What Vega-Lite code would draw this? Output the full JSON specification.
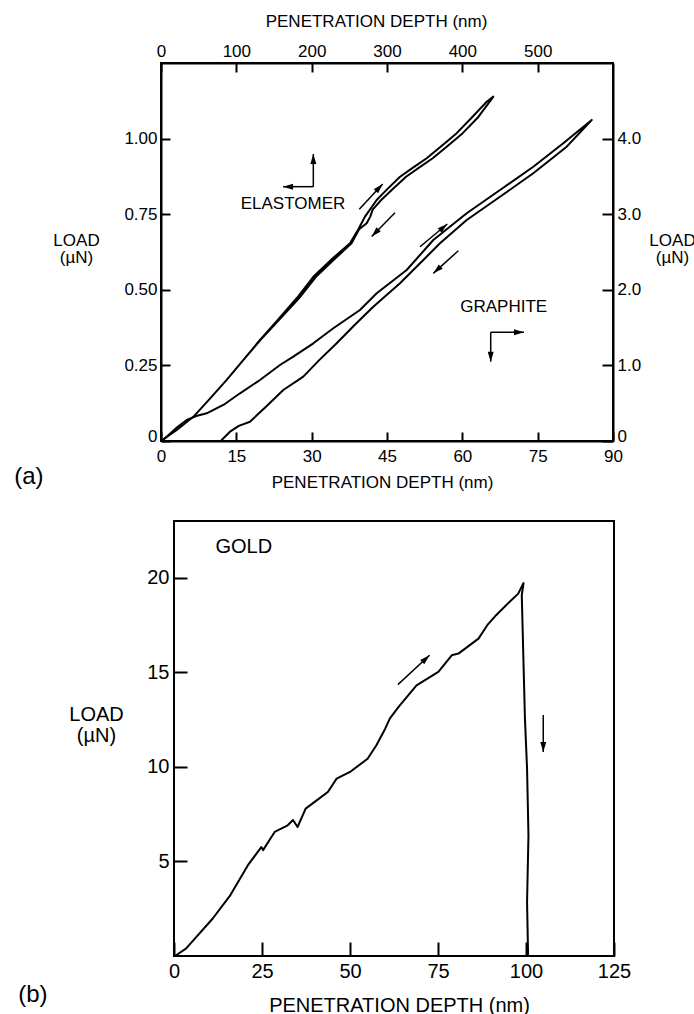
{
  "$schema": "https://vega.github.io/schema/vega-lite/v6.json",
  "padding": {"left": 13, "top": 11, "right": 0, "bottom": 0},
  "spacing": 29,
  "datasets": {
    "elastomer": [
      {"i":0,"nm":0,"load":0},{"i":1,"nm":20,"load":0.035},{"i":2,"nm":42.9,"load":0.08},{"i":3,"nm":65,"load":0.14},
      {"i":4,"nm":87.2,"load":0.202},{"i":5,"nm":110,"load":0.27},{"i":6,"nm":131.4,"load":0.334},{"i":7,"nm":155,"load":0.4},
      {"i":8,"nm":180.1,"load":0.472},{"i":9,"nm":202.2,"load":0.543},{"i":10,"nm":228,"load":0.604},{"i":11,"nm":250.9,"load":0.654},
      {"i":12,"nm":262,"load":0.7},{"i":13,"nm":270.8,"load":0.742},{"i":14,"nm":286.3,"load":0.797},{"i":15,"nm":300,"load":0.832},
      {"i":16,"nm":317.3,"load":0.874},{"i":17,"nm":335,"load":0.905},{"i":18,"nm":352.7,"load":0.935},{"i":19,"nm":372,"load":0.975},
      {"i":20,"nm":392.5,"load":1.018},{"i":21,"nm":412,"load":1.068},{"i":22,"nm":432.4,"load":1.122},{"i":23,"nm":441.1,"load":1.139},
      {"i":24,"nm":436.4,"load":1.122},{"i":25,"nm":420,"load":1.068},{"i":26,"nm":400.5,"load":1.018},{"i":27,"nm":380,"load":0.975},
      {"i":28,"nm":360.7,"load":0.935},{"i":29,"nm":343,"load":0.905},{"i":30,"nm":325.3,"load":0.874},{"i":31,"nm":307,"load":0.832},
      {"i":32,"nm":292.3,"load":0.797},{"i":33,"nm":281,"load":0.765},{"i":34,"nm":277.8,"load":0.742},{"i":35,"nm":273,"load":0.72},
      {"i":36,"nm":263,"load":0.7},{"i":37,"nm":252.9,"load":0.654},{"i":38,"nm":231.5,"load":0.604},{"i":39,"nm":205.7,"load":0.543},
      {"i":40,"nm":183.1,"load":0.472},{"i":41,"nm":156.5,"load":0.4},{"i":42,"nm":131.9,"load":0.334},{"i":43,"nm":110,"load":0.27},
      {"i":44,"nm":87.2,"load":0.202},{"i":45,"nm":65,"load":0.14},{"i":46,"nm":42.9,"load":0.08},{"i":47,"nm":20,"load":0.035},
      {"i":48,"nm":0,"load":0}
    ],
    "graphite": [
      {"i":0,"nm":0,"load":0},{"i":1,"nm":0.8,"load":0.036},{"i":2,"nm":3,"load":0.17},{"i":3,"nm":5.12,"load":0.278},
      {"i":4,"nm":7,"load":0.33},{"i":5,"nm":9.1,"load":0.366},{"i":6,"nm":12.5,"load":0.48},{"i":7,"nm":15.73,"load":0.631},
      {"i":8,"nm":19.71,"load":0.807},{"i":9,"nm":23.69,"load":1.005},{"i":10,"nm":26.34,"load":1.115},{"i":11,"nm":30.33,"load":1.292},
      {"i":12,"nm":34.31,"load":1.491},{"i":13,"nm":39.62,"load":1.733},{"i":14,"nm":42.95,"load":1.954},{"i":15,"nm":48.92,"load":2.262},
      {"i":16,"nm":54.22,"load":2.659},{"i":17,"nm":60.87,"load":3.012},{"i":18,"nm":67.5,"load":3.32},{"i":19,"nm":74.13,"load":3.628},
      {"i":20,"nm":80.1,"load":3.938},{"i":21,"nm":85.76,"load":4.246},{"i":22,"nm":80.78,"load":3.893},{"i":23,"nm":74.13,"load":3.541},
      {"i":24,"nm":67.5,"load":3.231},{"i":25,"nm":60.87,"load":2.923},{"i":26,"nm":55.55,"load":2.615},{"i":27,"nm":52.23,"load":2.394},
      {"i":28,"nm":47.59,"load":2.086},{"i":29,"nm":42.27,"load":1.776},{"i":30,"nm":38.5,"load":1.53},{"i":31,"nm":34.98,"load":1.292},
      {"i":32,"nm":31.5,"load":1.07},{"i":33,"nm":28.33,"load":0.851},{"i":34,"nm":24.35,"load":0.675},{"i":35,"nm":21,"load":0.46},
      {"i":36,"nm":17.72,"load":0.255},{"i":37,"nm":15.5,"load":0.2},{"i":38,"nm":13.74,"load":0.123},{"i":39,"nm":12.09,"load":0.013},
      {"i":40,"nm":11.95,"load":0}
    ],
    "gold": [
      {"i":0,"nm":0.26,"load":0},{"i":1,"nm":3.4,"load":0.39},{"i":2,"nm":10.95,"load":1.97},{"i":3,"nm":15.98,"load":3.21},
      {"i":4,"nm":21.0,"load":4.8},{"i":5,"nm":24.8,"load":5.76},{"i":6,"nm":25.3,"load":5.6},{"i":7,"nm":28.6,"load":6.56},
      {"i":8,"nm":32.3,"load":6.91},{"i":9,"nm":33.8,"load":7.19},{"i":10,"nm":35.1,"load":6.82},{"i":11,"nm":37.4,"load":7.79},
      {"i":12,"nm":41.2,"load":8.32},{"i":13,"nm":43.7,"load":8.67},{"i":14,"nm":46.2,"load":9.38},{"i":15,"nm":50.0,"load":9.73},
      {"i":16,"nm":55.0,"load":10.43},{"i":17,"nm":57.5,"load":11.14},{"i":18,"nm":60.0,"load":12.02},{"i":19,"nm":61.3,"load":12.55},
      {"i":20,"nm":63.8,"load":13.17},{"i":21,"nm":68.9,"load":14.31},{"i":22,"nm":75.1,"load":15.02},{"i":23,"nm":78.9,"load":15.9},
      {"i":24,"nm":80.8,"load":15.99},{"i":25,"nm":86.5,"load":16.78},{"i":26,"nm":89.0,"load":17.49},{"i":27,"nm":91.5,"load":18.02},
      {"i":28,"nm":95.3,"load":18.72},{"i":29,"nm":97.8,"load":19.16},{"i":30,"nm":99.3,"load":19.72},{"i":31,"nm":98.8,"load":19.07},
      {"i":32,"nm":99.7,"load":12.55},{"i":33,"nm":100.3,"load":9.9},{"i":34,"nm":100.7,"load":6.38},{"i":35,"nm":100.3,"load":2.86},
      {"i":36,"nm":100.6,"load":0}
    ],
    "arrows": [
      {"panel":"elastomer","x":263.2,"y":0.766,"x2":294.3,"y2":0.85,"heading":43},
      {"panel":"elastomer","x":310.6,"y":0.755,"x2":279.7,"y2":0.676,"heading":224},
      {"panel":"elastomer","x":202.2,"y":0.841,"x2":202.2,"y2":0.949,"heading":0},
      {"panel":"elastomer","x":202.2,"y":0.841,"x2":162.0,"y2":0.841,"heading":270},
      {"panel":"graphite","x":51.57,"y":2.57,"x2":57.01,"y2":2.87,"heading":50},
      {"panel":"graphite","x":59.2,"y":2.517,"x2":54.22,"y2":2.218,"heading":228},
      {"panel":"graphite","x":65.65,"y":1.438,"x2":72.28,"y2":1.438,"heading":90},
      {"panel":"graphite","x":65.65,"y":1.438,"x2":65.65,"y2":1.049,"heading":180},
      {"panel":"gold","x":63.6,"y":14.35,"x2":72.6,"y2":15.9,"heading":47},
      {"panel":"gold","x":104.9,"y":12.74,"x2":104.9,"y2":10.79,"heading":180}
    ],
    "labels": [
      {"panel":"elastomer","text":"ELASTOMER","x":175.2,"y":0.784},
      {"panel":"graphite","text":"GRAPHITE","x":68.24,"y":1.772},
      {"panel":"graphite_tag","text":"(a)","x":-26.3,"y":-0.476},
      {"panel":"gold","text":"GOLD","x":19.82,"y":21.6},
      {"panel":"gold_tag","text":"(b)","x":-40.1,"y":-2.06}
    ],
    "frame": [{"x0":0,"x1":125,"y0":0,"y1":23}]
  },
  "vconcat": [
    {
      "width": 452,
      "height": 378,
      "layer": [
        {
          "layer": [
            {
              "data": {"name": "elastomer"},
              "mark": {"type": "line", "color": "black", "strokeWidth": 2, "strokeJoin": "round"},
              "encoding": {
                "x": {"field": "nm", "type": "quantitative",
                  "scale": {"domain": [0, 600], "nice": false, "zero": false},
                  "axis": {"orient": "top", "title": "PENETRATION DEPTH (nm)", "values": [0,100,200,300,400,500],
                    "tickSize": -9, "labelPadding": 12, "labelFontSize": 17, "titleFontSize": 17,
                    "titleX": 215, "titleY": -42, "titleAlign": "center", "titleBaseline": "middle"}},
                "y": {"field": "load", "type": "quantitative",
                  "scale": {"domain": [0, 1.25], "nice": false, "zero": false},
                  "axis": {"orient": "left", "title": ["LOAD", "(µN)"], "values": [0,0.25,0.5,0.75,1],
                    "labelExpr": "datum.value == 0 ? '0' : format(datum.value, '.2f')",
                    "labelBaseline": {"condition": {"test": "datum.value == 0", "value": "alphabetic"}, "value": "middle"},
                    "tickSize": -9, "labelPadding": 13, "labelFontSize": 17, "titleFontSize": 17,
                    "titleAngle": 0, "titleX": -85, "titleY": 177, "titleAlign": "center", "titleBaseline": "middle", "titleLineHeight": 17}},
                "order": {"field": "i", "type": "quantitative"}
              }
            },
            {
              "data": {"name": "arrows"},
              "transform": [{"filter": "datum.panel == 'elastomer'"}],
              "mark": {"type": "rule", "color": "black", "strokeWidth": 1.5},
              "encoding": {
                "x": {"field": "x", "type": "quantitative", "scale": {"domain": [0, 600], "nice": false, "zero": false}},
                "y": {"field": "y", "type": "quantitative", "scale": {"domain": [0, 1.25], "nice": false, "zero": false}},
                "x2": {"field": "x2"},
                "y2": {"field": "y2"}
              }
            },
            {
              "data": {"name": "arrows"},
              "transform": [{"filter": "datum.panel == 'elastomer'"}],
              "mark": {"type": "point", "shape": "M0,0L0.6,2L-0.6,2Z", "filled": true, "color": "black", "size": 100, "opacity": 1},
              "encoding": {
                "x": {"field": "x2", "type": "quantitative", "scale": {"domain": [0, 600], "nice": false, "zero": false}},
                "y": {"field": "y2", "type": "quantitative", "scale": {"domain": [0, 1.25], "nice": false, "zero": false}},
                "angle": {"field": "heading", "type": "quantitative", "scale": null}
              }
            },
            {
              "data": {"name": "labels"},
              "transform": [{"filter": "datum.panel == 'elastomer'"}],
              "mark": {"type": "text", "fontSize": 17, "color": "black", "align": "center", "baseline": "middle"},
              "encoding": {
                "x": {"field": "x", "type": "quantitative", "scale": {"domain": [0, 600], "nice": false, "zero": false}},
                "y": {"field": "y", "type": "quantitative", "scale": {"domain": [0, 1.25], "nice": false, "zero": false}},
                "text": {"field": "text"}
              }
            }
          ]
        },
        {
          "layer": [
            {
              "data": {"name": "graphite"},
              "mark": {"type": "line", "color": "black", "strokeWidth": 2, "strokeJoin": "round"},
              "encoding": {
                "x": {"field": "nm", "type": "quantitative",
                  "scale": {"domain": [0, 90], "nice": false, "zero": false},
                  "axis": {"orient": "bottom", "title": "PENETRATION DEPTH (nm)", "values": [0,15,30,45,60,75,90],
                    "tickSize": -9, "labelPadding": 16, "labelFontSize": 17, "titleFontSize": 17,
                    "titleX": 221, "titleY": 41, "titleAlign": "center", "titleBaseline": "middle"}},
                "y": {"field": "load", "type": "quantitative",
                  "scale": {"domain": [0, 5], "nice": false, "zero": false},
                  "axis": {"orient": "right", "title": ["LOAD", "(µN)"], "values": [0,1,2,3,4],
                    "labelExpr": "datum.value == 0 ? '0' : format(datum.value, '.1f')",
                    "labelBaseline": {"condition": {"test": "datum.value == 0", "value": "alphabetic"}, "value": "middle"},
                    "tickSize": -11, "labelPadding": 15, "labelFontSize": 17, "titleFontSize": 17,
                    "titleAngle": 0, "titleX": 59, "titleY": 177, "titleAlign": "center", "titleBaseline": "middle", "titleLineHeight": 17}},
                "order": {"field": "i", "type": "quantitative"}
              }
            },
            {
              "data": {"name": "arrows"},
              "transform": [{"filter": "datum.panel == 'graphite'"}],
              "mark": {"type": "rule", "color": "black", "strokeWidth": 1.5},
              "encoding": {
                "x": {"field": "x", "type": "quantitative", "scale": {"domain": [0, 90], "nice": false, "zero": false}},
                "y": {"field": "y", "type": "quantitative", "scale": {"domain": [0, 5], "nice": false, "zero": false}},
                "x2": {"field": "x2"},
                "y2": {"field": "y2"}
              }
            },
            {
              "data": {"name": "arrows"},
              "transform": [{"filter": "datum.panel == 'graphite'"}],
              "mark": {"type": "point", "shape": "M0,0L0.6,2L-0.6,2Z", "filled": true, "color": "black", "size": 100, "opacity": 1},
              "encoding": {
                "x": {"field": "x2", "type": "quantitative", "scale": {"domain": [0, 90], "nice": false, "zero": false}},
                "y": {"field": "y2", "type": "quantitative", "scale": {"domain": [0, 5], "nice": false, "zero": false}},
                "angle": {"field": "heading", "type": "quantitative", "scale": null}
              }
            },
            {
              "data": {"name": "labels"},
              "transform": [{"filter": "datum.panel == 'graphite'"}],
              "mark": {"type": "text", "fontSize": 17, "color": "black", "align": "center", "baseline": "middle"},
              "encoding": {
                "x": {"field": "x", "type": "quantitative", "scale": {"domain": [0, 90], "nice": false, "zero": false}},
                "y": {"field": "y", "type": "quantitative", "scale": {"domain": [0, 5], "nice": false, "zero": false}},
                "text": {"field": "text"}
              }
            },
            {
              "data": {"name": "labels"},
              "transform": [{"filter": "datum.panel == 'graphite_tag'"}],
              "mark": {"type": "text", "fontSize": 24, "color": "black", "align": "center", "baseline": "middle"},
              "encoding": {
                "x": {"field": "x", "type": "quantitative", "scale": {"domain": [0, 90], "nice": false, "zero": false}},
                "y": {"field": "y", "type": "quantitative", "scale": {"domain": [0, 5], "nice": false, "zero": false}},
                "text": {"field": "text"}
              }
            }
          ]
        }
      ],
      "resolve": {"scale": {"x": "independent", "y": "independent"}}
    },
    {
      "width": 453,
      "height": 435,
      "view": {"stroke": null},
      "layer": [
        {
          "data": {"name": "gold"},
          "mark": {"type": "line", "color": "black", "strokeWidth": 2, "strokeJoin": "round"},
          "encoding": {
            "x": {"field": "nm", "type": "quantitative",
              "scale": {"domain": [0, 125], "range": [13, 453], "nice": false, "zero": false},
              "axis": {"orient": "bottom", "title": "PENETRATION DEPTH (nm)", "values": [0,25,50,75,100,125], "domain": false,
                "tickSize": -14, "labelPadding": 19, "labelFontSize": 20, "titleFontSize": 20,
                "titleX": 238, "titleY": 49, "titleAlign": "center", "titleBaseline": "middle"}},
            "y": {"field": "load", "type": "quantitative",
              "scale": {"domain": [0, 23], "nice": false, "zero": false},
              "axis": {"orient": "left", "offset": -13, "title": ["LOAD", "(µN)"], "values": [5,10,15,20], "domain": false,
                "tickSize": -13, "labelPadding": 18, "labelFontSize": 20, "titleFontSize": 20,
                "titleAngle": 0, "titleX": -78, "titleY": 193, "titleAlign": "center", "titleBaseline": "middle", "titleLineHeight": 21}},
            "order": {"field": "i", "type": "quantitative"}
          }
        },
        {
          "data": {"name": "frame"},
          "mark": {"type": "rect", "filled": false, "color": "black", "strokeWidth": 2},
          "encoding": {
            "x": {"field": "x0", "type": "quantitative", "scale": {"domain": [0, 125], "range": [13, 453], "nice": false, "zero": false}},
            "x2": {"field": "x1"},
            "y": {"field": "y0", "type": "quantitative", "scale": {"domain": [0, 23], "nice": false, "zero": false}},
            "y2": {"field": "y1"}
          }
        },
        {
          "data": {"name": "arrows"},
          "transform": [{"filter": "datum.panel == 'gold'"}],
          "mark": {"type": "rule", "color": "black", "strokeWidth": 1.5},
          "encoding": {
            "x": {"field": "x", "type": "quantitative", "scale": {"domain": [0, 125], "range": [13, 453], "nice": false, "zero": false}},
            "y": {"field": "y", "type": "quantitative", "scale": {"domain": [0, 23], "nice": false, "zero": false}},
            "x2": {"field": "x2"},
            "y2": {"field": "y2"}
          }
        },
        {
          "data": {"name": "arrows"},
          "transform": [{"filter": "datum.panel == 'gold'"}],
          "mark": {"type": "point", "shape": "M0,0L0.6,2L-0.6,2Z", "filled": true, "color": "black", "size": 100, "opacity": 1},
          "encoding": {
            "x": {"field": "x2", "type": "quantitative", "scale": {"domain": [0, 125], "range": [13, 453], "nice": false, "zero": false}},
            "y": {"field": "y2", "type": "quantitative", "scale": {"domain": [0, 23], "nice": false, "zero": false}},
            "angle": {"field": "heading", "type": "quantitative", "scale": null}
          }
        },
        {
          "data": {"name": "labels"},
          "transform": [{"filter": "datum.panel == 'gold'"}],
          "mark": {"type": "text", "fontSize": 20, "color": "black", "align": "center", "baseline": "middle"},
          "encoding": {
            "x": {"field": "x", "type": "quantitative", "scale": {"domain": [0, 125], "range": [13, 453], "nice": false, "zero": false}},
            "y": {"field": "y", "type": "quantitative", "scale": {"domain": [0, 23], "nice": false, "zero": false}},
            "text": {"field": "text"}
          }
        },
        {
          "data": {"name": "labels"},
          "transform": [{"filter": "datum.panel == 'gold_tag'"}],
          "mark": {"type": "text", "fontSize": 24, "color": "black", "align": "center", "baseline": "middle"},
          "encoding": {
            "x": {"field": "x", "type": "quantitative", "scale": {"domain": [0, 125], "range": [13, 453], "nice": false, "zero": false}},
            "y": {"field": "y", "type": "quantitative", "scale": {"domain": [0, 23], "nice": false, "zero": false}},
            "text": {"field": "text"}
          }
        }
      ]
    }
  ],
  "config": {
    "font": "Liberation Sans",
    "background": "white",
    "view": {"stroke": "black", "strokeWidth": 2},
    "axis": {
      "domainColor": "black", "domainWidth": 2, "tickColor": "black", "tickWidth": 2,
      "labelColor": "black", "titleColor": "black", "titleFontWeight": "normal",
      "grid": false, "labelFlush": false, "labelOverlap": false, "labelBound": false,
      "labelFont": "Liberation Sans", "titleFont": "Liberation Sans"
    }
  }
}
